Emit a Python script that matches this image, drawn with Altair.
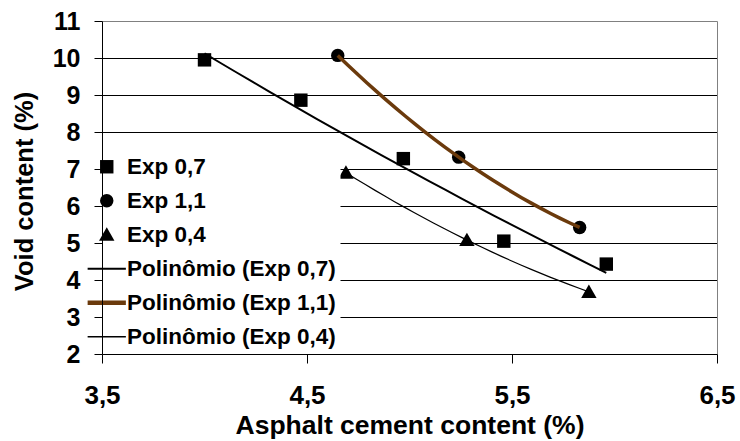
import altair as alt
import pandas as pd

# ---- data ----
exp07_x = [4.00, 4.47, 4.97, 5.46, 5.96]
exp07_y = [9.95, 8.86, 7.28, 5.05, 4.43]
exp11_x = [4.65, 5.24, 5.83]
exp11_y = [10.07, 7.32, 5.42]
exp04_x = [4.69, 5.28, 5.875]
exp04_y = [6.90, 5.08, 3.68]

series_names = ["Exp 0,7", "Exp 1,1", "Exp 0,4"]
trend_names = ["Polinômio (Exp 0,7)", "Polinômio (Exp 1,1)", "Polinômio (Exp 0,4)"]
x_ticks = [3.5, 4.5, 5.5, 6.5]
y_ticks = [2, 3, 4, 5, 6, 7, 8, 9, 10, 11]

rows = []
for name, xs, ys in zip(series_names, [exp07_x, exp11_x, exp04_x], [exp07_y, exp11_y, exp04_y]):
    for xv, yv in zip(xs, ys):
        rows.append({"series": name, "x": xv, "y": yv})
df = pd.DataFrame(rows)

FONT = "Liberation Sans"
BROWN = "#6B3A0C"
legend_order = series_names + trend_names

shape_range = [
    "square", "circle", "M0,-1.1L1.15,0.9L-1.15,0.9Z",
    "M-2.85,-0.16L2.85,-0.16L2.85,0.16L-2.85,0.16Z",
    "M-2.85,-0.32L2.85,-0.32L2.85,0.32L-2.85,0.32Z",
    "M-2.85,-0.1L2.85,-0.1L2.85,0.1L-2.85,0.1Z",
]
color_range = ["black", "black", "black", "black", BROWN, "black"]

x_scale = alt.Scale(domain=[3.5, 6.5], nice=False, zero=False)
y_scale = alt.Scale(domain=[2, 11], nice=False, zero=False)

label_expr = "replace(format(datum.value, '.1f'), '.', ',')"

x_axis = alt.Axis(
    orient="bottom", values=x_ticks, labelExpr=label_expr,
    title="Asphalt cement content (%)", grid=False,
    domainColor="black", domainWidth=1, tickColor="black", tickSize=9, tickWidth=1,
    labelPadding=19.5, labelFont=FONT, labelFontSize=26, labelFontWeight="bold",
    labelColor="black", labelFlush=False, labelOverlap=False,
    titleFont=FONT, titleFontSize=26.5, titleFontWeight="bold", titleColor="black",
    titleBaseline="alphabetic", titleY=79, zindex=1,
)

y_axis = alt.Axis(
    orient="left", values=y_ticks, format="d",
    title="Void content (%)", grid=False,
    domainColor="black", domainWidth=1, tickColor="black", tickSize=8, tickWidth=1,
    labelPadding=14, labelFont=FONT, labelFontSize=25, labelFontWeight="bold",
    labelColor="black", labelFlush=False, labelOverlap=False,
    titleFont=FONT, titleFontSize=25.5, titleFontWeight="bold", titleColor="black",
    titleBaseline="alphabetic", titleAngle=270, titleX=-70, titleY=170, zindex=1,
)

grid_axis = alt.Axis(
    orient="right", values=y_ticks[1:], grid=True,
    gridColor=alt.condition("datum.value == 11", alt.value("#808080"), alt.value("black")),
    gridWidth=1, labels=False, ticks=False,
    domain=True, domainColor="#808080", domainWidth=1, title=None, zindex=0,
)

legend = alt.Legend(
    orient="none", legendX=-10.5, legendY=130.5, title=None, direction="vertical",
    fillColor="white", padding=4,
    labelFont=FONT, labelFontSize=22.5, labelFontWeight="bold", labelColor="black",
    labelOffset=9, labelLimit=400, symbolSize=180, symbolStrokeWidth=0,
    rowPadding=11, symbolOpacity=1,
)

points = alt.Chart(df).mark_point(filled=True, size=180, opacity=1).encode(
    x=alt.X("x:Q", scale=x_scale, axis=x_axis),
    y=alt.Y("y:Q", scale=y_scale, axis=y_axis),
    shape=alt.Shape("series:N", scale=alt.Scale(domain=legend_order, range=shape_range), legend=legend),
    color=alt.Color("series:N", scale=alt.Scale(domain=legend_order, range=color_range), legend=legend),
)

trend = (
    alt.Chart(df)
    .transform_regression("x", "y", groupby=["series"], method="poly", order=2)
    .transform_calculate(
        trend="'Polinômio (' + datum.series + ')'",
        lw="datum.series == 'Exp 1,1' ? 3.5 : (datum.series == 'Exp 0,7' ? 2 : 1.2)",
    )
    .mark_line()
    .encode(
        x=alt.X("x:Q", scale=x_scale, axis=x_axis),
        y=alt.Y("y:Q", scale=y_scale, axis=grid_axis),
        stroke=alt.Stroke("trend:N", scale=alt.Scale(domain=trend_names, range=["black", BROWN, "black"]), legend=None),
        strokeWidth=alt.StrokeWidth("lw:Q", scale=None, legend=None),
        detail="trend:N",
    )
)

chart = (
    alt.layer(points, trend)
    .properties(
        width=615, height=333,
        padding={"left": 102, "top": 21, "right": 23, "bottom": 87},
        autosize=alt.AutoSizeParams(type="none"),
        background="white",
    )
    .configure_view(strokeWidth=0)
)

chart.save("out.html", embed_options={"renderer": "svg", "actions": False})
